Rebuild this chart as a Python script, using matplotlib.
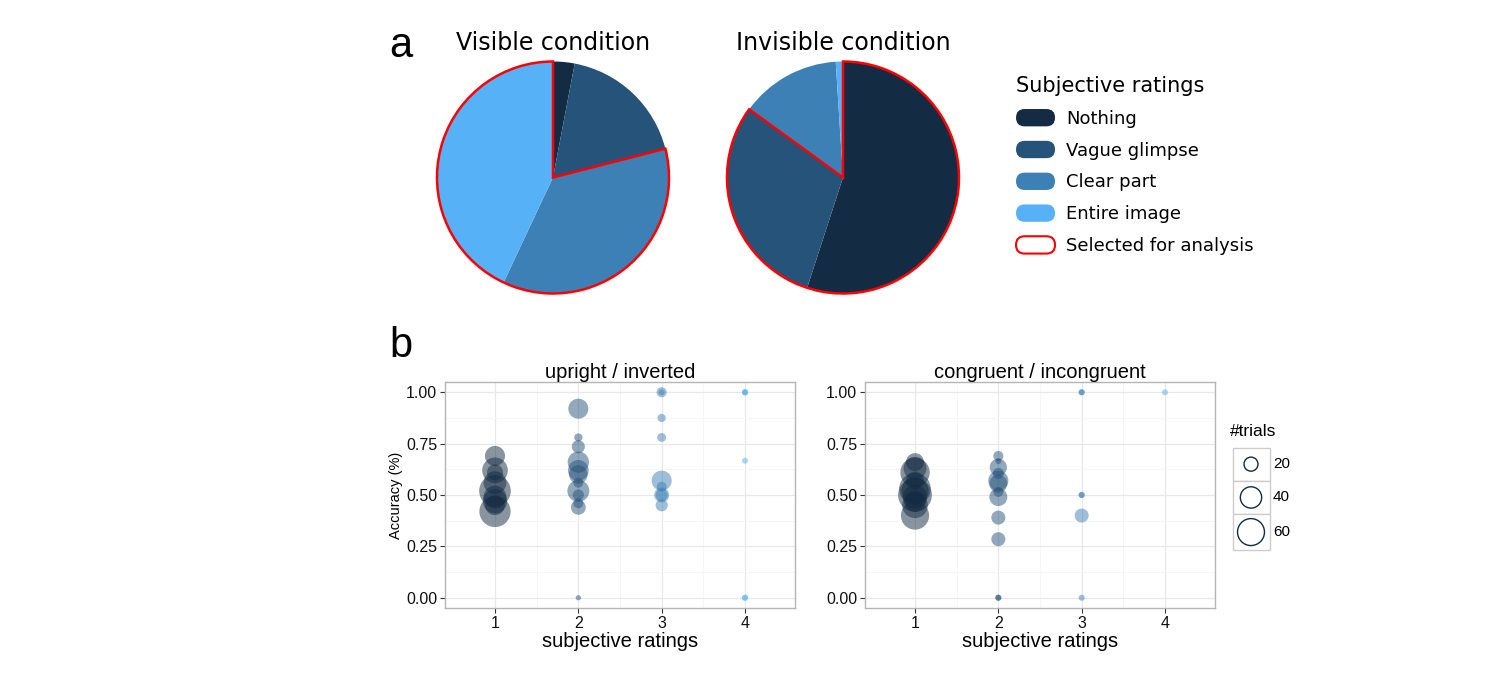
import numpy as np
import matplotlib
matplotlib.use("Agg")
import matplotlib.pyplot as plt
from matplotlib.patches import Patch, FancyBboxPatch, Rectangle
from matplotlib.legend_handler import HandlerPatch

W, H = 1489, 676

# ---- data ----
rating_names = ["Nothing", "Vague glimpse", "Clear part", "Entire image"]
rating_colors = ["#132B43", "#26537A", "#3D80B6", "#56B1F7"]

visible_pct = [3, 18, 36, 43]
invisible_pct = [55, 30, 14, 1]
visible_selected = [False, False, True, True]
invisible_selected = [True, True, False, False]

# upright / inverted
ui_rating = [1]*9 + [2]*12 + [3]*9 + [4]*6
ui_acc = [0.69, 0.62, 0.61, 0.56, 0.52, 0.49, 0.47, 0.45, 0.42,
          0.92, 0.78, 0.735, 0.66, 0.62, 0.60, 0.56, 0.52, 0.50, 0.46, 0.44, 0.0,
          1.0, 1.0, 0.875, 0.78, 0.57, 0.54, 0.50, 0.50, 0.45,
          1.0, 1.0, 1.0, 0.667, 0.0, 0.0]
ui_n = [36, 55, 25, 45, 80, 45, 50, 35, 78,
        36, 9, 18, 40, 38, 32, 12, 42, 14, 12, 22, 5,
        12, 6, 9, 10, 36, 12, 22, 16, 16,
        6, 6, 6, 6, 6, 6]

# congruent / incongruent
ci_rating = [1]*11 + [2]*12 + [3]*6 + [4]*1
ci_acc = [0.66, 0.63, 0.61, 0.57, 0.53, 0.52, 0.50, 0.49, 0.47, 0.45, 0.40,
          0.69, 0.665, 0.635, 0.605, 0.57, 0.555, 0.515, 0.49, 0.39, 0.285, 0.0, 0.0,
          1.0, 1.0, 0.5, 0.5, 0.40, 0.0,
          1.0]
ci_n = [30, 45, 70, 30, 80, 60, 90, 50, 40, 55, 65,
        12, 6, 28, 14, 36, 30, 12, 30, 20, 20, 6, 6,
        6, 6, 6, 6, 20, 6,
        6]

size_keys = [20, 40, 60]


def msize(n):
    d = np.maximum(-2.6 + 2.84 * np.sqrt(np.asarray(n, float)), 3.8)
    return d ** 2


fig = plt.figure(figsize=(W / 100, H / 100), dpi=100)


def axes_px(x0, y0, x1, y1):
    return fig.add_axes([x0 / W, 1 - y1 / H, (x1 - x0) / W, (y1 - y0) / H])


# ---- panel a: pies ----
def draw_pie(cx, title, pct, selected):
    r = 116
    m = 122
    ax = axes_px(cx - m, 177.5 - m, cx + m, 177.5 + m)
    ax.pie(pct, colors=rating_colors, startangle=90, counterclock=False,
           wedgeprops=dict(linewidth=0))
    groups = [sum(p for p, s in zip(pct, selected) if s == selected[0]),
              sum(p for p, s in zip(pct, selected) if s != selected[0])]
    wedges, _ = ax.pie(groups, startangle=90, counterclock=False,
                       wedgeprops=dict(fill=False, linewidth=1.8))
    for w, sel in zip(wedges, [selected[0], not selected[0]]):
        w.set_edgecolor("#FF0000" if sel else "none")
    lim = m / r
    ax.set_xlim(-lim, lim)
    ax.set_ylim(-lim, lim)
    fig.text(cx / W, 1 - 43 / H, title, ha="center", va="center",
             fontsize=17, family="DejaVu Sans")


draw_pie(553, "Visible condition", visible_pct, visible_selected)
draw_pie(843, "Invisible condition", invisible_pct, invisible_selected)


def pill(legend, orig_handle, xdescent, ydescent, width, height, fontsize):
    return FancyBboxPatch((-xdescent, -ydescent), width, height,
                          boxstyle=f"round,pad=0,rounding_size={height / 2}")


handles = [Patch(facecolor=c, edgecolor="none") for c in rating_colors]
handles.append(Patch(facecolor="white", edgecolor="#FF0000", linewidth=1.5))
labels = rating_names + ["Selected for analysis"]
leg = fig.legend(handles, labels, title="Subjective ratings", loc="upper left",
                 bbox_to_anchor=(1007 / W, 1 - 67 / H), frameon=False,
                 prop=dict(family="DejaVu Sans", size=13),
                 title_fontproperties=dict(family="DejaVu Sans", size=15),
                 handlelength=2.16, handleheight=1.1, handletextpad=0.6,
                 labelspacing=0.72, borderpad=0, alignment="left",
                 handler_map={Patch: HandlerPatch(patch_func=pill)})

fig.text(389 / W, 1 - 57 / H, "a", fontsize=30, family="Liberation Sans", va="baseline")
fig.text(389 / W, 1 - 357 / H, "b", fontsize=30, family="Liberation Sans", va="baseline")


# ---- panel b: bubble plots ----
def draw_panel(ax, title, rating, acc, n, ylabel=None):
    cols = [rating_colors[r - 1] for r in rating]
    ax.scatter(rating, acc, s=msize(n), c=cols, alpha=0.5, linewidths=0, zorder=3)
    ax.set_xlim(0.4, 4.6)
    ax.set_ylim(-0.05, 1.05)
    ax.set_xticks([1, 2, 3, 4])
    ax.set_yticks([0, 0.25, 0.5, 0.75, 1.0])
    ax.set_yticklabels(["0.00", "0.25", "0.50", "0.75", "1.00"])
    ax.set_xticks([1.5, 2.5, 3.5], minor=True)
    ax.set_yticks([0.125, 0.375, 0.625, 0.875], minor=True)
    ax.grid(True, which="major", color="#E8E8E8", linewidth=0.9, zorder=0)
    ax.grid(True, which="minor", color="#F5F5F5", linewidth=0.6, zorder=0)
    ax.set_axisbelow(True)
    for sp in ax.spines.values():
        sp.set_color("#B5B5B5")
        sp.set_linewidth(1.0)
    ax.tick_params(which="major", direction="out", length=3.5, width=0.8,
                   color="#333333", labelsize=11.5, labelcolor="#111111", pad=2)
    ax.tick_params(which="minor", length=0)
    for lab in ax.get_xticklabels() + ax.get_yticklabels():
        lab.set_family("Liberation Sans")
    ax.set_title(title, fontsize=14.5, family="Liberation Sans", pad=3)
    ax.set_xlabel("subjective ratings", fontsize=14.5, family="Liberation Sans", labelpad=1)
    if ylabel:
        ax.set_ylabel(ylabel, fontsize=10.5, family="Liberation Sans", labelpad=2)


ax_l = axes_px(445, 382, 795, 608)
ax_r = axes_px(865, 382, 1215, 608)
draw_panel(ax_l, "upright / inverted", ui_rating, ui_acc, ui_n, "Accuracy (%)")
draw_panel(ax_r, "congruent / incongruent", ci_rating, ci_acc, ci_n)

# size legend
fig.text(1230 / W, 1 - 432 / H, "#trials", fontsize=12.5, family="Liberation Sans", va="center")
lx0, ly0 = 1232, 447
box_w = 37
box_h = [max(33.3, np.sqrt(msize(k)) / 0.72 + 9) for k in size_keys]
ax_k = axes_px(lx0, ly0, lx0 + 60, ly0 + sum(box_h) + 2)
ax_k.set_xlim(0, 60)
ax_k.set_ylim(sum(box_h) + 2, 0)
ax_k.axis("off")
y = 0.5
for k, bh in zip(size_keys, box_h):
    ax_k.add_patch(Rectangle((0.5, y), box_w, bh, facecolor="white",
                             edgecolor="#CCCCCC", linewidth=1.0))
    ax_k.scatter([0.5 + box_w / 2], [y + bh / 2], s=msize(k), facecolors="none",
                 edgecolors="#132B43", linewidths=1.0)
    ax_k.text(box_w + 4, y + bh / 2, str(k), va="center", ha="left",
              fontsize=11, family="Liberation Sans")
    y += bh

fig.savefig("out.png", dpi=100)
